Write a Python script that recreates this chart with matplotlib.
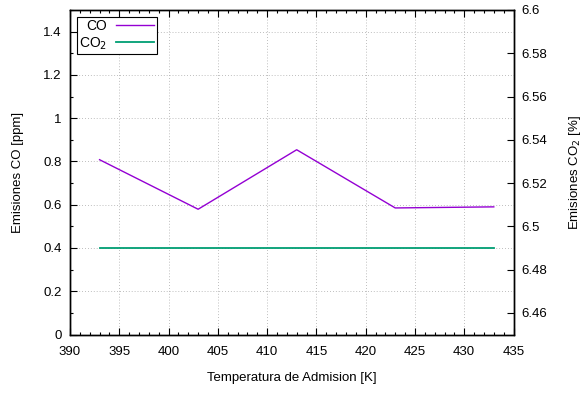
import matplotlib
matplotlib.use("Agg")
import matplotlib.pyplot as plt
from matplotlib.ticker import MultipleLocator

plt.rcParams['font.family'] = ['Liberation Sans', 'DejaVu Sans']
plt.rcParams['font.size'] = 9.5

temperature = [393, 403, 413, 423, 433]
co_ppm = [0.808, 0.579, 0.854, 0.585, 0.590]
co2_pct = [6.49, 6.49, 6.49, 6.49, 6.49]

fig = plt.figure(figsize=(5.84, 3.94), dpi=100)
ax = fig.add_axes([70 / 584, 1 - 334.5 / 394, 443.5 / 584, 324.5 / 394])
ax2 = ax.twinx()

l1, = ax.plot(temperature, co_ppm, color='#9400D3', lw=1.0, label='CO')
l2, = ax2.plot(temperature, co2_pct, color='#009E73', lw=1.3, label='CO$_2$')

ax.set_xlim(390, 435)
ax.set_ylim(0, 1.5)
ax2.set_ylim(6.45, 6.6)

ax.xaxis.set_major_locator(MultipleLocator(5))
ax.xaxis.set_minor_locator(MultipleLocator(1))
ax.yaxis.set_minor_locator(MultipleLocator(0.1))

ax.set_yticks([0, 0.2, 0.4, 0.6, 0.8, 1, 1.2, 1.4])
ax.set_yticklabels(['0', '0.2', '0.4', '0.6', '0.8', '1', '1.2', '1.4'])
ax2.set_yticks([6.46, 6.48, 6.5, 6.52, 6.54, 6.56, 6.58, 6.6])
ax2.set_yticklabels(['6.46', '6.48', '6.5', '6.52', '6.54', '6.56', '6.58', '6.6'])

ax.tick_params(axis='x', which='both', direction='in', top=True, pad=8)
ax.tick_params(axis='y', which='both', direction='in', pad=6)
ax.tick_params(which='major', length=5, width=0.8)
ax.tick_params(which='minor', length=2.5, width=0.8)
ax2.tick_params(axis='y', direction='in', length=5, width=0.8, pad=6)

ax.grid(True, which='major', color='#a8a8a8', linestyle=(0, (1, 2.5)), linewidth=0.6)
ax.set_axisbelow(True)

for a in (ax, ax2):
    for s in a.spines.values():
        s.set_linewidth(1.0)

ax.set_xlabel('Temperatura de Admision [K]', labelpad=10)
ax.set_ylabel('Emisiones CO [ppm]', labelpad=14)
ax2.set_ylabel('Emisiones CO$_2$ [%]', labelpad=14)

leg = ax.legend(handles=[l1, l2], loc='upper left',
                bbox_to_anchor=(7 / 443.5, 1 - 7 / 324.5),
                frameon=True, fancybox=False, edgecolor='black', framealpha=1,
                handlelength=2.8, handletextpad=0.6, borderpad=0.15,
                borderaxespad=0, labelspacing=0.15, markerfirst=False,
                fontsize=10)
leg.get_frame().set_linewidth(0.8)

fig.savefig('out.png', dpi=100)
